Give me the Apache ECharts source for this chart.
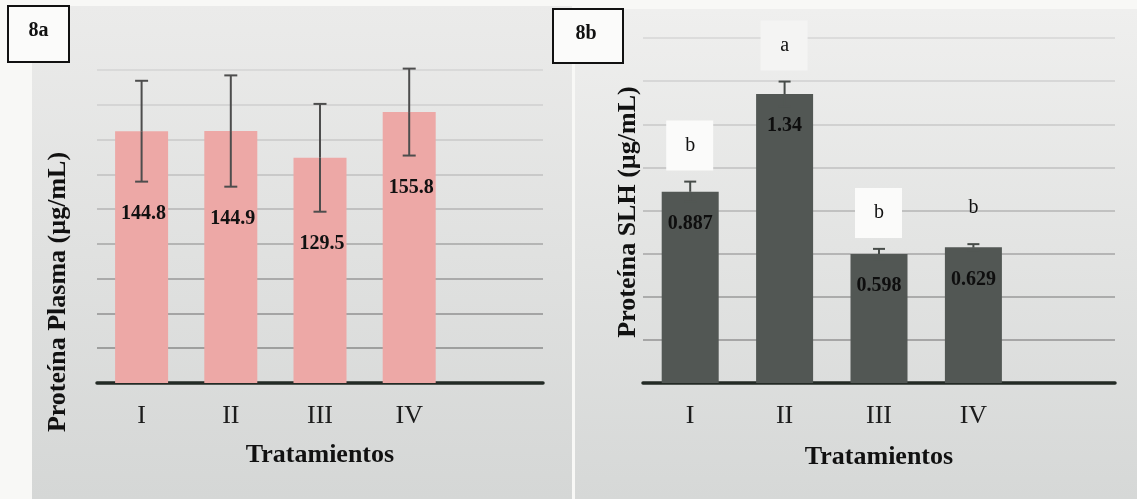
<!DOCTYPE html>
<html><head><meta charset="utf-8">
<script src="https://cdn.jsdelivr.net/npm/echarts@6/dist/echarts.min.js"></script>
<style>html,body{margin:0;padding:0;background:#f8f8f6}#c{width:1137px;height:499px}</style>
</head><body><div id="c"></div>
<script>
// ---- data ----
const categories = ['I', 'II', 'III', 'IV'];
const plasmaValues = [144.8, 144.9, 129.5, 155.8];
const plasmaErrors = [29, 32, 31, 25];
const slhValues = [0.887, 1.34, 0.598, 0.629];
const slhErrors = [0.047, 0.058, 0.024, 0.015];
const slhLetters = ['b', 'a', 'b', 'b'];
const plasmaAxis = { min: 0, max: 180, interval: 20 };
const slhAxis = { min: 0, max: 1.6, interval: 0.2 };
const panelLabels = ['8a', '8b'];
const xTitle = 'Tratamientos';
const yTitles = ['Proteína Plasma (µg/mL)', 'Proteína SLH (µg/mL)'];

const SERIF = "'Liberation Serif','Times New Roman',serif";
const chart = echarts.init(document.getElementById('c'), null, { renderer: 'canvas' });

const gridA = ['#858585','#8a8a8a','#909090','#989898','#a6a6a6','#b4b4b4','#c0c0c0','#c8c8c8','#cfcfcf','#d4d4d4'];
const gridB = ['#8e8e8e','#939393','#9a9a9a','#a6a6a6','#b4b4b4','#c0c0c0','#c9c9c9','#d0d0d0','#d6d6d6'];

function xAxisFor(gi) {
  return {
    type: 'category', gridIndex: gi, data: categories.concat(['']), boundaryGap: true,
    axisLine: { lineStyle: { color: '#232a25', width: 3.5 } },
    axisTick: { show: false },
    axisLabel: { fontFamily: SERIF, fontSize: 26, color: '#1c1c1c', margin: 20, lineHeight: 26 },
    splitLine: { show: false }
  };
}
function yAxisFor(gi, ax, colors) {
  return {
    type: 'value', gridIndex: gi, min: ax.min, max: ax.max, interval: ax.interval,
    axisLine: { show: false }, axisTick: { show: false }, axisLabel: { show: false },
    splitLine: { show: true, lineStyle: { color: colors, width: 1.5 } }
  };
}

function errorSeries(gi, values, errors, color, lowerColor, capW, extra) {
  return {
    type: 'custom', xAxisIndex: gi, yAxisIndex: gi, z: 5, clip: false,
    encode: { x: 0, y: 1 },
    data: values.map((v, i) => [i, v, errors[i]]),
    renderItem(params, api) {
      const i = api.value(0), v = api.value(1), e = api.value(2);
      const top = api.coord([i, v + e]);
      const mid = api.coord([i, v]);
      const bot = api.coord([i, v - e]);
      const hw = capW / 2;
      const st = { stroke: color, lineWidth: 2 };
      const sl = { stroke: lowerColor, lineWidth: 2 };
      const children = [
        { type: 'line', shape: { x1: top[0], y1: top[1], x2: mid[0], y2: mid[1] }, style: st },
        { type: 'line', shape: { x1: mid[0], y1: mid[1], x2: bot[0], y2: bot[1] }, style: sl },
        { type: 'line', shape: { x1: top[0] - hw, y1: top[1], x2: top[0] + hw, y2: top[1] }, style: st },
        { type: 'line', shape: { x1: bot[0] - hw, y1: bot[1], x2: bot[0] + hw, y2: bot[1] }, style: sl }
      ];
      if (extra) extra(children, params.dataIndex, top, bot);
      return { type: 'group', children };
    }
  };
}

const option = {
  animation: false,
  backgroundColor: '#f8f8f6',
  grid: [
    { left: 97, right: 594, top: 70, bottom: 116 },
    { left: 643, right: 22, top: 38, bottom: 116 }
  ],
  xAxis: [xAxisFor(0), xAxisFor(1)],
  yAxis: [yAxisFor(0, plasmaAxis, gridA), yAxisFor(1, slhAxis, gridB)],
  graphic: [
    { type: 'rect', z: -10, shape: { x: 32, y: 6, width: 540, height: 493 },
      style: { fill: new echarts.graphic.LinearGradient(0, 0, 0, 1, [{ offset: 0, color: '#ebebea' }, { offset: 1, color: '#d5d7d6' }]) } },
    { type: 'rect', z: -10, shape: { x: 575, y: 9, width: 562, height: 490 },
      style: { fill: new echarts.graphic.LinearGradient(0, 0, 0, 1, [{ offset: 0, color: '#efefee' }, { offset: 1, color: '#d6d8d7' }]) } },
    { type: 'rect', z: 50, shape: { x: 8, y: 6, width: 61, height: 56 }, style: { fill: '#fbfbfa', stroke: '#111', lineWidth: 2 } },
    { type: 'text', z: 51, x: 38.5, y: 31, style: { text: panelLabels[0], font: "bold 20px " + SERIF, fill: '#111', align: 'center', verticalAlign: 'middle' } },
    { type: 'rect', z: 50, shape: { x: 553, y: 9, width: 70, height: 54 }, style: { fill: '#fbfbfa', stroke: '#111', lineWidth: 2 } },
    { type: 'text', z: 51, x: 586, y: 34, style: { text: panelLabels[1], font: "bold 20px " + SERIF, fill: '#111', align: 'center', verticalAlign: 'middle' } },
    { type: 'text', z: 51, x: 58, y: 292, rotation: Math.PI / 2, style: { text: yTitles[0], font: "bold 26px " + SERIF, fill: '#111', align: 'center', verticalAlign: 'middle' } },
    { type: 'text', z: 51, x: 628, y: 212, rotation: Math.PI / 2, style: { text: yTitles[1], font: "bold 26px " + SERIF, fill: '#111', align: 'center', verticalAlign: 'middle' } },
    { type: 'text', z: 51, x: 320, y: 455, style: { text: xTitle, font: "bold 26px " + SERIF, fill: '#111', align: 'center', verticalAlign: 'middle' } },
    { type: 'text', z: 51, x: 879, y: 457, style: { text: xTitle, font: "bold 26px " + SERIF, fill: '#111', align: 'center', verticalAlign: 'middle' } }
  ],
  series: [
    { type: 'bar', xAxisIndex: 0, yAxisIndex: 0, data: plasmaValues, barWidth: 53,
      itemStyle: { color: '#eda8a6' } },
    errorSeries(0, plasmaValues, plasmaErrors, '#4d4d4d', '#4d4d4d', 13, (children, i, top, bot) => {
      children.push({ type: 'text', x: bot[0] + 2, y: bot[1] + 32,
        style: { text: String(plasmaValues[i]), font: "bold 20px " + SERIF, fill: '#111', align: 'center', verticalAlign: 'middle' } });
    }),
    { type: 'bar', xAxisIndex: 1, yAxisIndex: 1, data: slhValues, barWidth: 57,
      itemStyle: { color: '#525754' },
      label: { show: true, position: 'insideTop', distance: 22, fontFamily: SERIF, fontWeight: 'bold', fontSize: 20, color: '#0e0e0e',
        formatter: p => String(p.value) } },
    errorSeries(1, slhValues, slhErrors, '#474c49', '#525754', 12, (children, i, top) => {
      const cx = top[0], cy = top[1] - 36;
      if (i !== 3) children.push({ type: 'rect', shape: { x: cx - 24, y: cy - 25, width: 47, height: 50 },
        style: { fill: i === 1 ? '#f4f4f3' : '#fbfbfa' } });
      children.push({ type: 'text', x: cx, y: cy,
        style: { text: slhLetters[i], font: "20px " + SERIF, fill: '#111', align: 'center', verticalAlign: 'middle' } });
    })
  ]
};
chart.setOption(option);
</script>
</body></html>
